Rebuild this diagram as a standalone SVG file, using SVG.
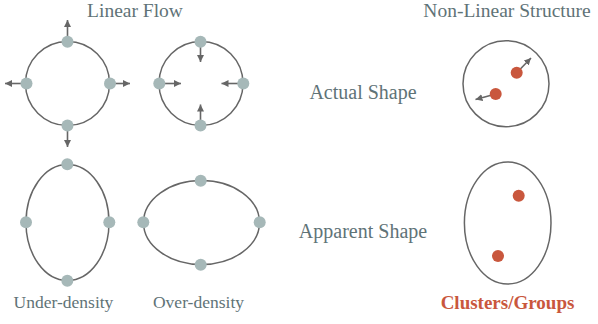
<svg xmlns="http://www.w3.org/2000/svg" width="598" height="324" viewBox="0 0 598 324">
<style>
.t{font-family:"Liberation Serif","Times New Roman",serif;fill:#5f7377;text-anchor:middle}
.shape{fill:none;stroke:#666;stroke-width:1.5}
.dot{fill:#a6b8b8}
.red{fill:#c9573d}
.arr{stroke:#666;stroke-width:1.6;fill:none;marker-end:url(#ah)}
</style>
<defs>
<marker id="ah" markerUnits="userSpaceOnUse" markerWidth="8" markerHeight="8" refX="7" refY="3.5" orient="auto">
<path d="M0,0 L7,3.5 L0,7 z" fill="#666"/>
</marker>
</defs>
<rect width="598" height="324" fill="#fff"/>
<text class="t" x="135" y="17" font-size="19.5">Linear Flow</text>
<text class="t" x="507" y="17" font-size="19.5">Non-Linear Structure</text>
<text class="t" x="363" y="99" font-size="20">Actual Shape</text>
<text class="t" x="363" y="238" font-size="20">Apparent Shape</text>
<text class="t" x="63.5" y="308" font-size="17.5">Under-density</text>
<text class="t" x="198.5" y="308" font-size="17.5">Over-density</text>
<text class="t" x="507.5" y="309" font-size="19" font-weight="bold" style="fill:#c9573d">Clusters/Groups</text>

<g id="connectors">
<line class="arr" x1="67.5" y1="42" x2="67.5" y2="20"/>
<line class="arr" x1="26.5" y1="83.5" x2="5" y2="83.5"/>
<line class="arr" x1="110" y1="83.5" x2="130" y2="83.5"/>
<line class="arr" x1="67.5" y1="125.5" x2="67.5" y2="147"/>
<line class="arr" x1="200.5" y1="42" x2="200.5" y2="62"/>
<line class="arr" x1="159.5" y1="83.5" x2="181" y2="83.5"/>
<line class="arr" x1="243.5" y1="83.5" x2="221.5" y2="83.5"/>
<line class="arr" x1="200.5" y1="125.5" x2="200.5" y2="104.5"/>
<line class="arr" x1="516.7" y1="72.7" x2="531" y2="58"/>
<line class="arr" x1="495.7" y1="94" x2="475.5" y2="99.5"/>
</g>

<g id="circle-outward">
<circle class="shape" cx="67.5" cy="83.5" r="42"/>
<circle class="dot" cx="67.5" cy="41.7" r="6"/>
<circle class="dot" cx="26.5" cy="83.5" r="6"/>
<circle class="dot" cx="110" cy="83.5" r="6"/>
<circle class="dot" cx="67.5" cy="125.5" r="6"/>
</g>
<g id="circle-inward">
<circle class="shape" cx="201" cy="83.5" r="42"/>
<circle class="dot" cx="200.5" cy="41.7" r="6"/>
<circle class="dot" cx="159.3" cy="83.5" r="6"/>
<circle class="dot" cx="243.3" cy="83.5" r="6"/>
<circle class="dot" cx="200.5" cy="125.5" r="6"/>
</g>
<g id="ellipse-under">
<ellipse class="shape" cx="67.5" cy="222.5" rx="41.5" ry="58"/>
<circle class="dot" cx="67.3" cy="164.3" r="6"/>
<circle class="dot" cx="26" cy="222.3" r="6"/>
<circle class="dot" cx="109.3" cy="222.3" r="6"/>
<circle class="dot" cx="67.3" cy="280.7" r="6"/>
</g>
<g id="ellipse-over">
<ellipse class="shape" cx="201.5" cy="222.5" rx="58" ry="42"/>
<circle class="dot" cx="200.7" cy="180.7" r="6"/>
<circle class="dot" cx="143.3" cy="222.3" r="6"/>
<circle class="dot" cx="259.7" cy="222.3" r="6"/>
<circle class="dot" cx="200.7" cy="264.8" r="6"/>
</g>
<g id="actual-shape">
<circle class="shape" cx="506" cy="83.7" r="43"/>
<circle class="red" cx="516.7" cy="72.7" r="6"/>
<circle class="red" cx="495.7" cy="94" r="6"/>
</g>
<g id="apparent-shape">
<ellipse class="shape" cx="507.7" cy="223" rx="43.3" ry="61"/>
<circle class="red" cx="518.7" cy="195.7" r="6"/>
<circle class="red" cx="498" cy="256" r="6"/>
</g>
</svg>
